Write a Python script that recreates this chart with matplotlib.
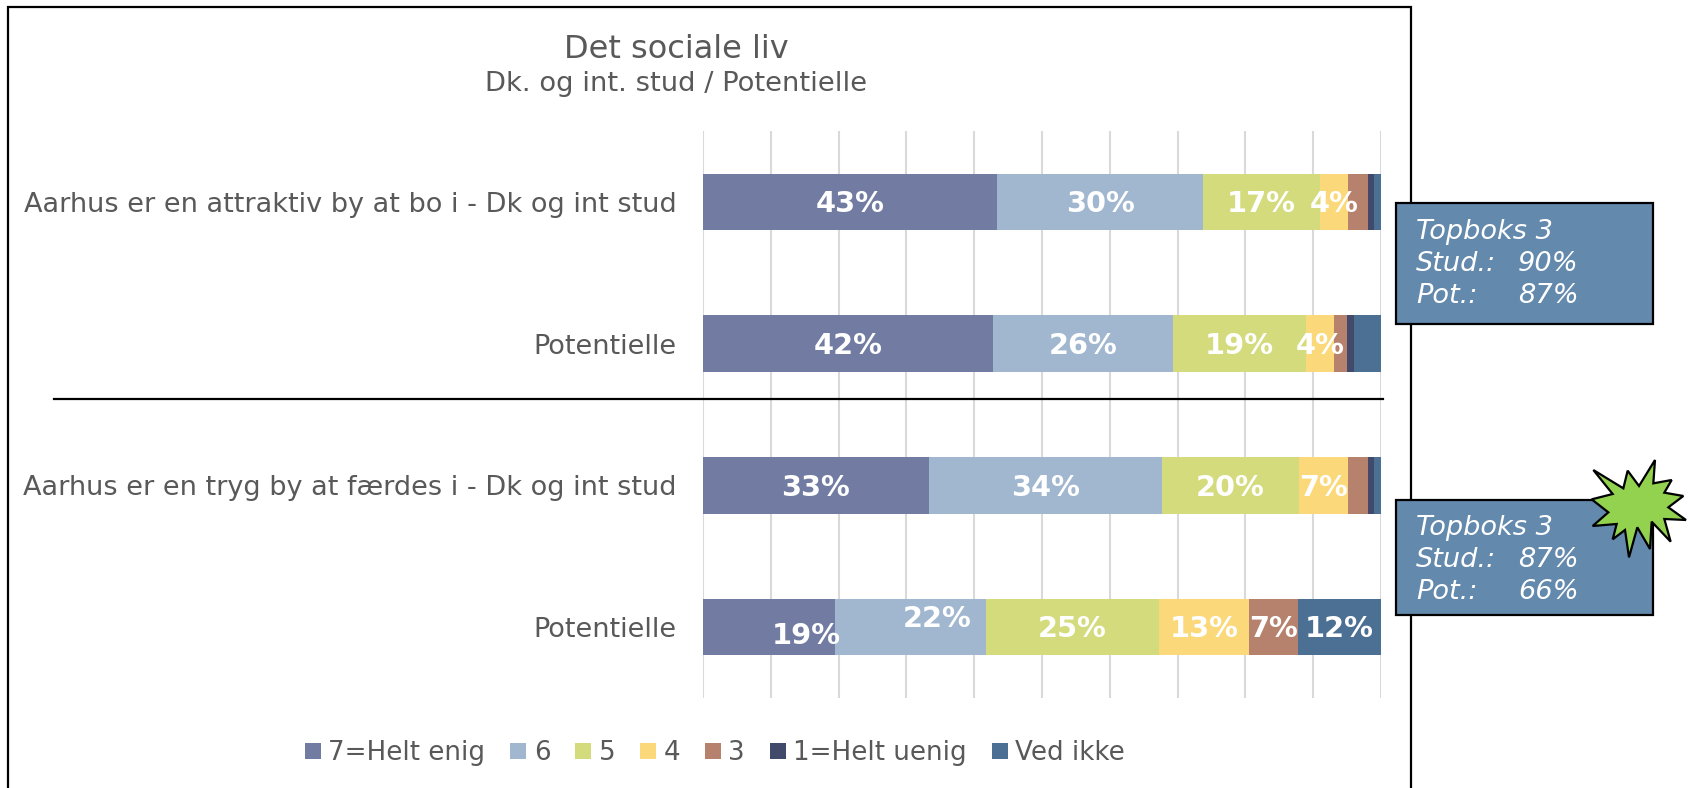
import matplotlib
matplotlib.use("Agg")
import matplotlib.pyplot as plt
from matplotlib.patches import Polygon, Rectangle

W, H = 1690, 788

rows = ["Aarhus er en attraktiv by at bo i - Dk og int stud", "Potentielle",
        "Aarhus er en tryg by at færdes i - Dk og int stud", "Potentielle"]
series = ["7=Helt enig", "6", "5", "4", "3", "1=Helt uenig", "Ved ikke"]
colors = ["#727BA1", "#A0B7CF", "#D4DB7C", "#FBD97B", "#B6826E", "#414A6B", "#4C7093"]
v7 = [43.4, 42.7, 33.3, 19.4]
v6 = [30.4, 26.6, 34.4, 22.3]
v5 = [17.2, 19.6, 20.2, 25.6]
v4 = [4.1, 4.1, 7.2, 13.3]
v3 = [3.0, 2.0, 3.0, 7.2]
v1 = [0.9, 1.0, 0.9, 0.0]
vx = [1.0, 4.0, 1.0, 12.2]
values = [v7, v6, v5, v4, v3, v1, vx]
box_names = ["Topboks 3", "Stud.:", "Pot.:"]
box_values = [["", "90%", "87%"], ["", "87%", "66%"]]

GREY = "#595959"
plt.rcParams["font.family"] = "DejaVu Sans"
fig = plt.figure(figsize=(W / 100, H / 100), dpi=100)
ax = fig.add_axes([703 / W, 1 - 698 / H, 678 / W, 567 / H])


def px(x, y):
    return x / W, 1 - y / H


# two labels in the bottom row were dragged by hand in the original
nudge = {(3, 0): (5.6, 0.045), (3, 1): (4.0, -0.075)}
labels = {(0, 0): "43%", (0, 1): "30%", (0, 2): "17%", (0, 3): "4%",
          (1, 0): "42%", (1, 1): "26%", (1, 2): "19%", (1, 3): "4%",
          (2, 0): "33%", (2, 1): "34%", (2, 2): "20%", (2, 3): "7%",
          (3, 0): "19%", (3, 1): "22%", (3, 2): "25%", (3, 3): "13%", (3, 4): "7%", (3, 6): "12%"}
y_pos = range(len(rows))
left = [0.0] * len(rows)
for j, (name, col, vals) in enumerate(zip(series, colors, values)):
    ax.barh(y_pos, vals, left=left, height=0.4, color=col, label=name, zorder=2)
    for i, v in enumerate(vals):
        if (i, j) in labels:
            dx, dy = nudge.get((i, j), (0, 0))
            ax.text(left[i] + v / 2 + dx, i + dy + 0.015, labels[(i, j)], color="white", fontsize=20.8,
                    fontweight="bold", ha="center", va="center", zorder=3)
        left[i] += v

ax.set_xlim(0, 100)
ax.set_ylim(3.5, -0.5)
ax.set_xticks(range(0, 101, 10))
ax.set_yticks(list(y_pos))
ax.set_yticklabels(rows, fontsize=19.5, color=GREY)
ax.tick_params(axis="both", length=0, pad=19)
ax.tick_params(axis="x", labelbottom=False)
ax.grid(axis="x", color="#D9D9D9", lw=1.5)
ax.set_axisbelow(True)
for s in ax.spines.values():
    s.set_visible(False)

fig.text(*px(676, 50), "Det sociale liv", fontsize=23, color=GREY, ha="center", va="center")
fig.text(*px(676, 84), "Dk. og int. stud / Potentielle", fontsize=19.7, color=GREY, ha="center", va="center")

# outer frame, runs off the bottom of the crop
fig.add_artist(Rectangle(px(8, 800), 1403 / W, 793 / H, fc="none", ec="black", lw=1.6,
                         transform=fig.transFigure))
fig.add_artist(plt.Line2D([54 / W, 1383 / W], [1 - 399 / H] * 2, color="black", lw=1.6))

for top, bot, mid, vals in [(203, 324, 264, box_values[0]), (500, 615, 560, box_values[1])]:
    x0, y0 = px(1396, bot)
    fig.add_artist(Rectangle((x0, y0), 257 / W, (bot - top) / H, fc="#6389AD", ec="black", lw=1.6,
                             transform=fig.transFigure, zorder=5))
    for off, name, val in zip((-32, 0, 32), box_names, vals):
        fig.text(*px(1416, mid + off), name, color="white", fontsize=19.6, style="italic",
                 va="center", zorder=6)
        fig.text(*px(1518, mid + off), val, color="white", fontsize=19.6, style="italic",
                 va="center", zorder=6)

star_x = [40, 98, 35, 85, 38, 110, 98, 135, 147, 172, 210, 215, 272, 253, 318, 265, 310, 253, 275, 220, 225, 177, 143, 130]
star_y = [60, 132, 148, 187, 228, 222, 268, 240, 322, 232, 297, 215, 275, 207, 210, 172, 138, 128, 90, 100, 30, 108, 62, 115]
fig.add_artist(Polygon([px(1580 + a / 3, 450 + b / 3) for a, b in zip(star_x, star_y)], closed=True,
                       fc="#92D24F", ec="black", lw=1.6, transform=fig.transFigure, zorder=7))

handles, names = ax.get_legend_handles_labels()
fig.legend(handles, names, loc="center", bbox_to_anchor=(715 / W, 1 - 753 / H), ncol=7, frameon=False,
           fontsize=18.8, labelcolor=GREY, handlelength=0.6, handleheight=0.6, handletextpad=0.3,
           columnspacing=0.95)

fig.savefig("out.png", dpi=100)
